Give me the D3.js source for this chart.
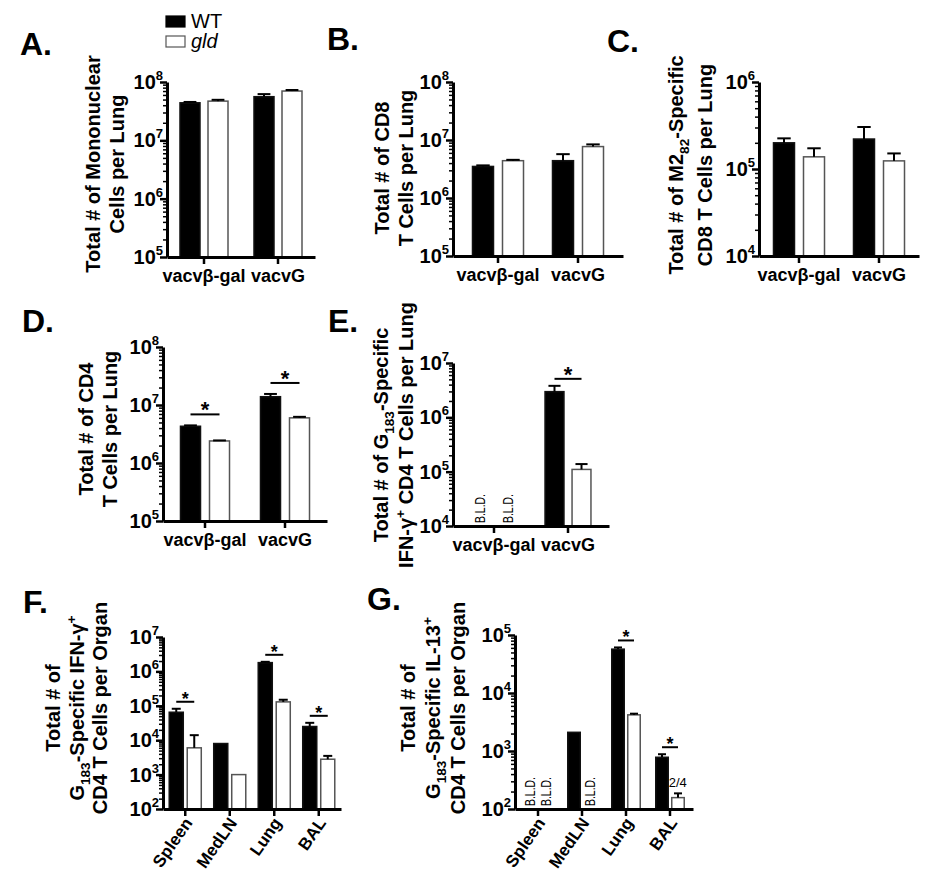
<!DOCTYPE html>
<html><head><meta charset="utf-8">
<script src="https://cdn.jsdelivr.net/npm/d3@7"></script>
<style>
body{margin:0;background:#fff}
svg{display:block}
text{font-family:"Liberation Sans",Arial,Helvetica,sans-serif;fill:#000}
</style>
</head><body>
<svg id="fig" width="928" height="878"></svg>
<script>
// ---------------- DATA ----------------
const series = ["WT", "gld"];
const vacvCats = ["vacvβ-gal", "vacvG"];
const organCats = ["Spleen", "MedLN", "Lung", "BAL"];

// A: mononuclear cells per lung
const aWT = [4.4e7, 5.6e7], aWTErr = [4.55e7, 6.2e7];
const aGld = [4.7e7, 7.0e7], aGldErr = [4.95e7, 7.3e7];
// B: CD8 T cells per lung
const bWT = [3.5e6, 4.4e6], bWTErr = [3.65e6, 5.7e6];
const bGld = [4.4e6, 7.7e6], bGldErr = [4.55e6, 8.4e6];
// C: M2(82)-specific CD8 T cells
const cWT = [2.0e5, 2.21e5], cWTErr = [2.25e5, 3.04e5];
const cGld = [1.38e5, 1.24e5], cGldErr = [1.73e5, 1.51e5];
// D: CD4 T cells per lung
const dWT = [4.3e6, 1.39e7], dWTErr = [4.45e6, 1.55e7];
const dGld = [2.4e6, 6.0e6], dGldErr = [2.45e6, 6.25e6];
// E: G183-specific IFN-g+ CD4 T cells (null = B.L.D.)
const eWT = [null, 2.97e6], eWTErr = [null, 3.8e6];
const eGld = [null, 1.1e5], eGldErr = [null, 1.38e5];
// F: G183-specific IFN-g+ CD4 T cells per organ
const fWT = [6.5e4, 8.0e3, 1.8e6, 2.5e4], fWTErr = [8.2e4, null, 1.9e6, 3.2e4];
const fGld = [6.0e3, 1.0e3, 1.3e5, 2.8e3], fGldErr = [1.4e4, null, 1.5e5, 3.5e3];
// G: G183-specific IL-13+ CD4 T cells per organ (null = B.L.D.)
const gWT = [null, 2.1e3, 5.7e4, 7.8e2], gWTErr = [null, null, 6.1e4, 8.8e2];
const gGld = [null, null, 4.2e3, 1.57e2], gGldErr = [null, null, 4.4e3, 1.86e2];

// significance marks and notes
const dSig = ["vacvβ-gal", "vacvG"];
const eSig = ["vacvG"];
const fSig = ["Spleen", "Lung", "BAL"];
const gSig = ["Lung", "BAL"];
const gNotes = [{cat: "BAL", series: "gld", text: "2/4"}];

// ---------------- LAYOUT ----------------
const panels = [
  {letter:"A.", lx:20, ly:55, cats:vacvCats, wt:aWT, wtErr:aWTErr, gld:aGld, gldErr:aGldErr,
   domain:[1e5,1e8], left:167, right:315, top:82, bottom:257, po:0, pi2:0.286, po2:0.464,
   titles:[["Total # of Mononuclear",100],["Cells per Lung",124]], titleY:164, sig:[], sigOff:10},
  {letter:"B.", lx:327, ly:50, cats:vacvCats, wt:bWT, wtErr:bWTErr, gld:bGld, gldErr:bGldErr,
   domain:[1e5,1e8], left:453, right:623, top:82, bottom:256, po:0.0625, pi2:0.3, po2:0.483,
   titles:[["Total # of CD8",389],["T Cells per Lung",413]], titleY:168, sig:[], sigOff:10},
  {letter:"C.", lx:607, ly:52, cats:vacvCats, wt:cWT, wtErr:cWTErr, gld:cGld, gldErr:cGldErr,
   domain:[1e4,1e6], left:759, right:919, top:82, bottom:256, po:0, pi2:0.3, po2:0.483,
   titles:[["Total # of M2_{82}-Specific",683],["CD8 T Cells per Lung",712]], titleY:165, sig:[], sigOff:10},
  {letter:"D.", lx:22, ly:332, cats:vacvCats, wt:dWT, wtErr:dWTErr, gld:dGld, gldErr:dGldErr,
   domain:[1e5,1e8], left:163, right:327, top:347, bottom:521, po:0.025, pi2:0.31, po2:0.534,
   titles:[["Total # of CD4",93],["T Cells per Lung",117]], titleY:429, sig:dSig, sigOff:11},
  {letter:"E.", lx:328, ly:332, cats:vacvCats, wt:eWT, wtErr:eWTErr, gld:eGld, gldErr:eGldErr,
   domain:[1e4,1e7], left:453, right:609, top:363, bottom:526, po:0.054, pi2:0.3, po2:0.52,
   titles:[["Total # of G_{183}-Specific",388],["IFN-γ^{+} CD4 T Cells per Lung",413]], titleY:435, sig:eSig, sigOff:7},
  {letter:"F.", lx:23, ly:613, cats:organCats, wt:fWT, wtErr:fWTErr, gld:fGld, gldErr:fGldErr,
   domain:[1e2,1e7], left:163, right:341, top:637, bottom:809, po:0, pi2:0.22, po2:0.346,
   titles:[["Total # of",60],["G_{183}-Specific IFN-γ^{+}",84],["CD4 T Cells per Organ",107]], titleY:708, sig:fSig, sigOff:7, rotated:true},
  {letter:"G.", lx:367, ly:610, cats:organCats, wt:gWT, wtErr:gWTErr, gld:gGld, gldErr:gGldErr,
   domain:[1e2,1e5], left:515, right:693, top:635, bottom:809, po:0.023, pi2:0.22, po2:0.485,
   titles:[["Total # of",415],["G_{183}-Specific IL-13^{+}",440],["CD4 T Cells per Organ",465]], titleY:708, sig:gSig, sigOff:7, rotated:true, notes:gNotes}
];

const svg = d3.select("#fig");
const FONT_TITLE = 20;

function rich(textSel, str, size) {
  // parse _{..} subscripts and ^{..} superscripts
  const re = /(_\{[^}]*\}|\^\{[^}]*\})/g;
  const parts = str.split(re).filter(s => s.length);
  let shift = 0;
  parts.forEach(p => {
    let t = p, dy = 0, fs = size;
    if (p.startsWith("_{")) { t = p.slice(2,-1); fs = size*0.68; dy = size*0.3; }
    else if (p.startsWith("^{")) { t = p.slice(2,-1); fs = size*0.68; dy = -size*0.42; }
    const d = dy - shift;
    textSel.append("tspan").attr("dy", d).attr("font-size", fs).text(t);
    shift = dy;
  });
}

panels.forEach(p => {
  const g = svg.append("g");
  const y = d3.scaleLog().domain(p.domain).range([p.bottom, p.top]);
  const x0 = d3.scaleBand().domain(p.cats).range([p.left, p.right]).paddingInner(0).paddingOuter(p.po);
  const x1 = d3.scaleBand().domain(series).range([0, x0.bandwidth()]).paddingInner(p.pi2).paddingOuter(p.po2);
  const bw = x1.bandwidth();

  // panel letter
  g.append("text").attr("x", p.lx).attr("y", p.ly).attr("font-size", 32).attr("font-weight", "bold").text(p.letter);

  // title lines
  p.titles.forEach(([t, tx]) => {
    const tt = g.append("text").attr("transform", `translate(${tx},${p.titleY}) rotate(-90)`)
      .attr("text-anchor", "middle").attr("font-size", FONT_TITLE).attr("font-weight", "bold");
    rich(tt, t, FONT_TITLE);
  });

  // bars
  const rows = [];
  p.cats.forEach((c, i) => {
    rows.push({cat:c, s:"WT", v:p.wt[i], e:p.wtErr[i]});
    rows.push({cat:c, s:"gld", v:p.gld[i], e:p.gldErr[i]});
  });
  rows.forEach(r => {
    const bx = x0(r.cat) + x1(r.s);
    if (r.v == null) {
      g.append("text").attr("transform", `translate(${bx + bw/2 + 5},${p.bottom - 3}) rotate(-90)`)
        .attr("font-size", 15).attr("textLength", 29).attr("lengthAdjust", "spacingAndGlyphs").text("B.L.D.");
      return;
    }
    const yt = y(r.v);
    g.append("rect").attr("x", bx).attr("y", yt).attr("width", bw).attr("height", p.bottom - yt)
      .attr("fill", r.s === "WT" ? "#000" : "#fff")
      .attr("stroke", r.s === "WT" ? "#111" : "#555").attr("stroke-width", 1.5);
    if (r.e != null) {
      const ye = y(r.e), cx = bx + bw/2, cw = bw*0.32;
      g.append("line").attr("x1", cx).attr("x2", cx).attr("y1", yt).attr("y2", ye).attr("stroke", "#000").attr("stroke-width", 2);
      g.append("line").attr("x1", cx - cw).attr("x2", cx + cw).attr("y1", ye).attr("y2", ye).attr("stroke", "#000").attr("stroke-width", 2);
    }
  });

  // significance
  p.sig.forEach(c => {
    const i = p.cats.indexOf(c);
    const tops = [p.wtErr[i] ?? p.wt[i], p.gldErr[i] ?? p.gld[i]].filter(v => v != null);
    const ly = y(d3.max(tops)) - p.sigOff;
    const xa = x0(c) + x1("WT") + bw/2, xb = x0(c) + x1("gld") + bw/2;
    g.append("line").attr("x1", xa).attr("x2", xb).attr("y1", ly).attr("y2", ly).attr("stroke", "#000").attr("stroke-width", 2);
    g.append("text").attr("x", (xa + xb)/2).attr("y", ly + 3).attr("text-anchor", "middle")
      .attr("font-size", p.rotated ? 18 : 22).attr("font-weight", "bold").text("*");
  });

  // notes
  (p.notes || []).forEach(n => {
    const i = p.cats.indexOf(n.cat);
    const v = n.series === "WT" ? (p.wtErr[i] ?? p.wt[i]) : (p.gldErr[i] ?? p.gld[i]);
    g.append("text").attr("x", x0(n.cat) + x1(n.series) - 3).attr("y", y(v) - 6)
      .attr("font-size", 13).text(n.text);
  });

  // y axis
  const [lo, hi] = p.domain;
  const majors = [], minors = [];
  for (let e = Math.round(Math.log10(lo)); e <= Math.round(Math.log10(hi)); e++) {
    majors.push(Math.pow(10, e));
    if (Math.pow(10, e) < hi) for (let k = 2; k <= 9; k++) minors.push(k * Math.pow(10, e));
  }
  const ayMin = g.append("g").attr("transform", `translate(${p.left},0)`)
    .call(d3.axisLeft(y).tickValues(minors).tickFormat("").tickSizeInner(4).tickSizeOuter(0));
  ayMin.select(".domain").remove();
  ayMin.selectAll(".tick line").attr("stroke-width", 1.5);
  const ay = g.append("g").attr("transform", `translate(${p.left},0)`)
    .call(d3.axisLeft(y).tickValues(majors).tickFormat("").tickSizeInner(7).tickSizeOuter(0));
  ay.select(".domain").attr("stroke-width", 3);
  ay.selectAll(".tick line").attr("stroke-width", 2.5);
  majors.forEach(v => {
    const t = g.append("text").attr("x", p.left - 4).attr("y", y(v) + 7).attr("text-anchor", "end")
      .attr("font-size", 20).attr("font-weight", "bold");
    t.append("tspan").text("10");
    t.append("tspan").attr("dy", -9).attr("font-size", 13).text(String(Math.round(Math.log10(v))));
  });

  // x axis
  const ax = g.append("g").attr("transform", `translate(0,${p.bottom})`)
    .call(d3.axisBottom(x0).tickFormat("").tickSizeInner(7).tickSizeOuter(0));
  ax.select(".domain").attr("stroke-width", 3);
  ax.selectAll(".tick line").attr("stroke-width", 2.5);
  p.cats.forEach(c => {
    const cx = x0(c) + x0.bandwidth()/2;
    if (p.rotated) {
      g.append("text").attr("transform", `translate(${cx + 8},${p.bottom + 14}) rotate(-55)`)
        .attr("text-anchor", "end").attr("font-size", 17).attr("font-weight", "bold").text(c);
    } else {
      g.append("text").attr("x", cx).attr("y", p.bottom + 25).attr("text-anchor", "middle")
        .attr("font-size", 18).attr("font-weight", "bold").text(c);
    }
  });
});

// legend
const leg = svg.append("g");
series.forEach((s, i) => {
  leg.append("rect").attr("x", 166).attr("y", 16 + i*20).attr("width", 19).attr("height", 11)
    .attr("fill", s === "WT" ? "#000" : "#fff").attr("stroke", s === "WT" ? "#000" : "#555").attr("stroke-width", 1.2);
  leg.append("text").attr("x", 191).attr("y", 28 + i*20).attr("font-size", 20)
    .attr("font-style", s === "gld" ? "italic" : "normal").text(s);
});
</script>
</body></html>
